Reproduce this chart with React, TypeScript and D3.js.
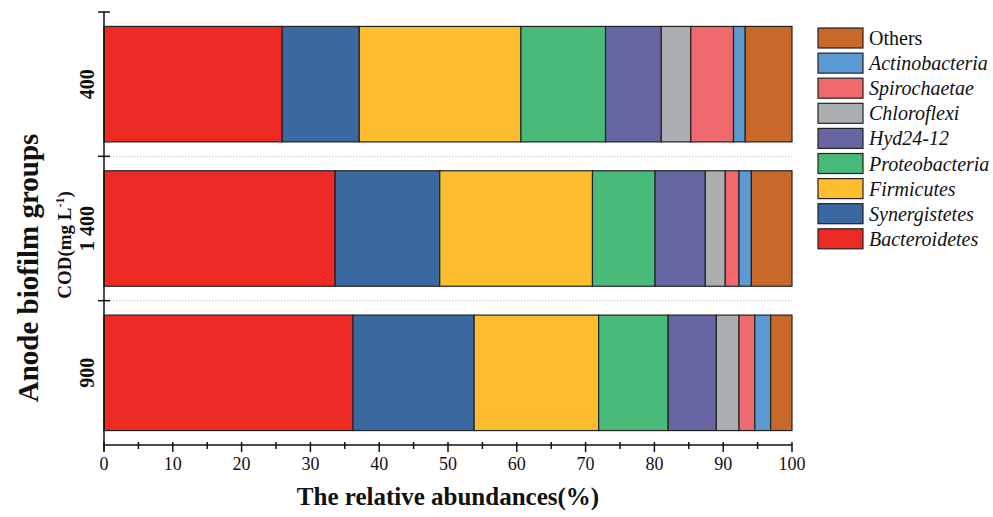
import React, { useEffect, useRef } from "react";
import * as d3 from "d3";

const groups = ["400", "1 400", "900"];
const phyla = [
  "Bacteroidetes",
  "Synergistetes",
  "Firmicutes",
  "Proteobacteria",
  "Hyd24-12",
  "Chloroflexi",
  "Spirochaetae",
  "Actinobacteria",
  "Others",
];
const colors = [
  "#EE2A24",
  "#3A68A0",
  "#FEBD2F",
  "#48BB7B",
  "#6667A2",
  "#ABAEB1",
  "#F06A6D",
  "#5B9AD2",
  "#C8692A",
];
const values400 = [25.9, 11.2, 23.5, 12.3, 8.1, 4.3, 6.2, 1.7, 6.8];
const values1400 = [33.6, 15.2, 22.2, 9.1, 7.3, 2.9, 2.0, 1.8, 5.9];
const values900 = [36.2, 17.6, 18.1, 10.1, 7.0, 3.3, 2.3, 2.3, 3.1];
const xTicks = [0, 10, 20, 30, 40, 50, 60, 70, 80, 90, 100];

const W = 993;
const H = 517;
const M = { left: 104, right: 792, top: 12, bottom: 445 };
const FONT = "'Liberation Serif', 'Times New Roman', serif";

export default function App() {
  const ref = useRef<SVGSVGElement>(null);
  useEffect(() => {
    const svg = d3.select(ref.current);
    svg.selectAll("*").remove();
    const rows = [values400, values1400, values900];
    const x = d3.scaleLinear().domain([0, 100]).range([M.left, M.right]);
    const y = d3.scaleBand<string>().domain(groups).range([M.top, M.bottom]).padding(0);
    const step = y.step();

    // separator dotted lines
    groups.slice(1).forEach((g) => {
      svg
        .append("line")
        .attr("x1", M.left)
        .attr("x2", M.right)
        .attr("y1", y(g)!)
        .attr("y2", y(g)!)
        .attr("stroke", "#c8c8c8")
        .attr("stroke-width", 1)
        .attr("stroke-dasharray", "1.5,1.5");
    });

    // bars
    groups.forEach((g, gi) => {
      const vals = rows[gi];
      let cum = 0;
      const by = y(g)! + step * 0.1;
      const bh = step * 0.8;
      vals.forEach((v, i) => {
        const x0 = cum;
        cum += v;
        const x1 = i === vals.length - 1 ? 100 : cum;
        svg
          .append("rect")
          .attr("x", x(x0))
          .attr("y", by)
          .attr("width", x(x1) - x(x0))
          .attr("height", bh)
          .attr("fill", colors[i])
          .attr("stroke", "#222")
          .attr("stroke-width", 1.2);
      });
    });

    // x axis
    const ax = svg.append("g").attr("stroke", "#111").attr("stroke-width", 1.5);
    ax.append("line").attr("x1", M.left).attr("x2", M.right).attr("y1", M.bottom).attr("y2", M.bottom);
    d3.range(0, 101, 5).forEach((t) => {
      const major = t % 10 === 0;
      ax.append("line")
        .attr("x1", x(t))
        .attr("x2", x(t))
        .attr("y1", M.bottom - 3)
        .attr("y2", M.bottom + (major ? 7 : 4));
    });
    xTicks.forEach((t) => {
      svg
        .append("text")
        .attr("x", x(t))
        .attr("y", M.bottom + 25)
        .attr("text-anchor", "middle")
        .attr("font-family", FONT)
        .attr("font-size", 18)
        .attr("fill", "#111")
        .text(String(t));
    });

    // y axis
    ax.append("line").attr("x1", M.left).attr("x2", M.left).attr("y1", M.top).attr("y2", M.bottom + 6);
    const bounds = [M.top, ...groups.slice(1).map((g) => y(g)!)];
    bounds.forEach((b) => {
      ax.append("line").attr("x1", M.left - 6).attr("x2", M.left + 6).attr("y1", b).attr("y2", b);
    });
    groups.forEach((g) => {
      const cy = y(g)! + step / 2;
      svg
        .append("text")
        .attr("transform", `translate(${M.left - 10},${cy}) rotate(-90)`)
        .attr("text-anchor", "middle")
        .attr("font-family", FONT)
        .attr("font-weight", "bold")
        .attr("font-size", 20)
        .attr("fill", "#111")
        .text(g);
    });

    // y titles
    svg
      .append("text")
      .attr("transform", `translate(38,268) rotate(-90)`)
      .attr("text-anchor", "middle")
      .attr("font-family", FONT)
      .attr("font-weight", "bold")
      .attr("font-size", 29)
      .attr("fill", "#111")
      .text("Anode biofilm groups");
    const cod = svg
      .append("text")
      .attr("transform", `translate(71,245) rotate(-90)`)
      .attr("text-anchor", "middle")
      .attr("font-family", FONT)
      .attr("font-weight", "bold")
      .attr("font-size", 19)
      .attr("fill", "#111");
    cod.append("tspan").text("COD(mg L");
    cod.append("tspan").attr("dy", -7).attr("font-size", 12).text("-1");
    cod.append("tspan").attr("dy", 7).text(")");

    // x title
    svg
      .append("text")
      .attr("x", (M.left + M.right) / 2)
      .attr("y", 505)
      .attr("text-anchor", "middle")
      .attr("font-family", FONT)
      .attr("font-weight", "bold")
      .attr("font-size", 25)
      .attr("fill", "#111")
      .text("The relative abundances(%)");

    // legend
    const legendOrder = phyla.map((p, i) => ({ p, c: colors[i] })).reverse();
    legendOrder.forEach((d, i) => {
      const ly = 28 + i * 25.1;
      svg
        .append("rect")
        .attr("x", 818)
        .attr("y", ly)
        .attr("width", 45)
        .attr("height", 20)
        .attr("fill", d.c)
        .attr("stroke", "#222")
        .attr("stroke-width", 1.2);
      svg
        .append("text")
        .attr("x", 869)
        .attr("y", ly + 17)
        .attr("font-family", FONT)
        .attr("font-style", d.p === "Others" ? "normal" : "italic")
        .attr("font-size", 20)
        .attr("fill", "#111")
        .text(d.p);
    });
  }, []);
  return (
    <svg
      ref={ref}
      width={W}
      height={H}
      style={{ position: "absolute", left: 0, top: 0, background: "#fff" }}
    />
  );
}
